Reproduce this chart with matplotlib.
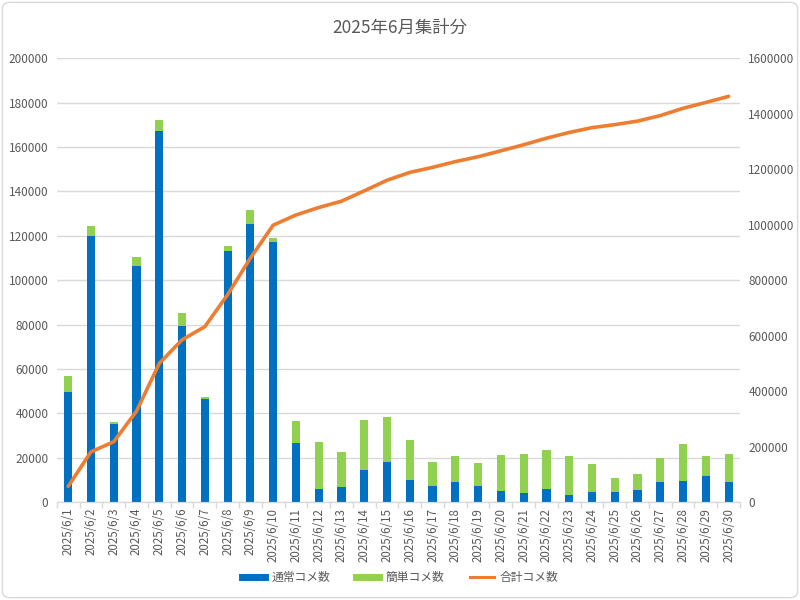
"""
2025年6月 コメ数集計 (stacked bars + cumulative line on a second axis)
"""

import matplotlib.pyplot as plt
from matplotlib.lines import Line2D
from matplotlib.patches import FancyBboxPatch
import numpy as np

plt.rcParams['font.family'] = ['Noto Sans CJK JP', 'DejaVu Sans']

dates = [f'2025/6/{d}' for d in range(1, 31)]

# 通常コメ数
normal = [49500, 120000, 35300, 106500, 167000, 79300, 46700, 113200, 125200, 117100,
          26500, 5900, 6900, 14600, 18200, 9800, 7100, 9300, 7500, 5100,
          4000, 5900, 3200, 4400, 4400, 5600, 9000, 9600, 11900, 9000]
# 簡単コメ数
simple = [7300, 4500, 1000, 3900, 5000, 5700, 600, 2100, 6500, 1700,
          10100, 21100, 15900, 22600, 20100, 18400, 11100, 11400, 10100, 16200,
          17900, 17700, 17500, 12900, 6500, 7000, 11000, 16700, 9100, 12900]
# 合計コメ数 (累計)
total = [57000, 181500, 217800, 328200, 500200, 585200, 632500, 747800, 879500, 998300,
         1034900, 1061900, 1084700, 1121900, 1160200, 1188400, 1206600, 1227300, 1244900, 1266200,
         1288100, 1311700, 1332400, 1349700, 1360600, 1373200, 1393200, 1419500, 1440500, 1462400]

BLUE = '#0070C0'
GREEN = '#92D050'
ORANGE = '#ED7D31'
TEXT = '#595959'
GRID = '#D9D9D9'

fig = plt.figure(figsize=(8, 6), dpi=100)
ax = fig.add_axes([0.071, 0.163, 0.854, 0.74])
ax2 = ax.twinx()

x = np.arange(len(dates))
width = 0.36
ax.bar(x, normal, width, color=BLUE, zorder=2)
ax.bar(x, simple, width, bottom=normal, color=GREEN, zorder=2)
ax2.plot(x, total, color=ORANGE, linewidth=2.6, solid_capstyle='round', zorder=3)

ax.set_xlim(-0.5, len(dates) - 0.5)
ax.set_ylim(0, 200000)
ax2.set_ylim(0, 1600000)
ax.set_yticks(np.arange(0, 200001, 20000))
ax2.set_yticks(np.arange(0, 1600001, 200000))
ax.ticklabel_format(axis='y', style='plain', useOffset=False)
ax2.ticklabel_format(axis='y', style='plain', useOffset=False)
ax.grid(True, axis='y', color=GRID, linewidth=1, zorder=0)
ax.set_axisbelow(True)

ax.set_xticks(x)
ax.set_xticklabels(dates, rotation=90, fontsize=8.3, color=TEXT)
ax.set_xticks(np.arange(-0.5, len(dates), 1), minor=True)
ax.tick_params(axis='x', which='major', length=0, pad=4)
ax.tick_params(axis='x', which='minor', length=4, color=GRID, width=1)
ax.tick_params(axis='y', length=0, labelsize=8.5, labelcolor=TEXT, pad=6)
ax2.tick_params(axis='y', length=0, labelsize=8.5, labelcolor=TEXT, pad=6)

for a in (ax, ax2):
    for side in ('top', 'left', 'right'):
        a.spines[side].set_visible(False)
    a.spines['bottom'].set_color(GRID)

fig.suptitle('2025年6月集計分', fontsize=12.5, color=TEXT, y=0.968)

handles = [
    Line2D([], [], color=BLUE, linewidth=5),
    Line2D([], [], color=GREEN, linewidth=5),
    Line2D([], [], color=ORANGE, linewidth=2.2),
]
fig.legend(handles, ['通常コメ数', '簡単コメ数', '合計コメ数'], loc='center', bbox_to_anchor=(0.5, 0.037),
           ncol=3, frameon=False, fontsize=8.5, labelcolor=TEXT, handlelength=2.0, columnspacing=2.2,
           handletextpad=0.5)

# chart border
border = FancyBboxPatch((0.003, 0.004), 0.994, 0.992, boxstyle='round,pad=0,rounding_size=0.01',
                        transform=fig.transFigure, facecolor='none', edgecolor=GRID, linewidth=1)
fig.patches.append(border)

plt.savefig('out.png', dpi=100, facecolor='white')
